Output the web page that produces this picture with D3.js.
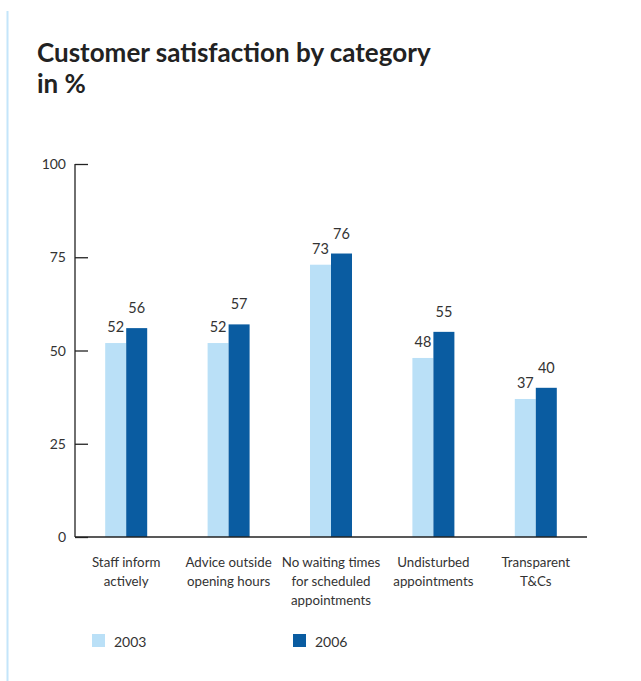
<!DOCTYPE html>
<html>
<head>
<meta charset="utf-8">
<script src="https://cdn.jsdelivr.net/npm/d3@7"></script>
<style>
  html, body { margin: 0; padding: 0; background: #fff; }
  svg { display: block; }
  text { font-family: Lato, "Open Sans", sans-serif; fill: #333; }
</style>
</head>
<body>
<div id="chart"></div>
<script>
// Survey results: share of satisfied customers per category
const categories = [
  ["Staff inform", "actively"],
  ["Advice outside", "opening hours"],
  ["No waiting times", "for scheduled", "appointments"],
  ["Undisturbed", "appointments"],
  ["Transparent", "T&Cs"]
];
const years = ["2003", "2006"];
const values2003 = [52, 52, 73, 48, 37];
const values2006 = [56, 57, 76, 55, 40];
const yTicks = [0, 25, 50, 75, 100];
const colors = ["#bae0f7", "#0a5ca1"];

const W = 641, H = 681;
const svg = d3.select("#chart").append("svg").attr("width", W).attr("height", H);

// light accent rule on the left edge
svg.append("line")
  .attr("x1", 7.5).attr("x2", 7.5).attr("y1", 11).attr("y2", H)
  .attr("stroke", "#c4e5fa").attr("stroke-width", 2);

// title
const title = svg.append("text")
  .style("font-size", "26px").style("font-weight", "700").style("fill", "#222");
title.append("tspan").attr("x", 37).attr("y", 62).text("Customer satisfaction by category");
title.append("tspan").attr("x", 37).attr("y", 93).text("in %");

const plot = { left: 75, right: 587, top: 164, bottom: 537 };

const x = d3.scaleBand()
  .domain(d3.range(categories.length))
  .range([plot.left, plot.right]);

const y = d3.scaleLinear().domain([0, 100]).range([plot.bottom, plot.top]);

const barW = 21;

// y axis: ticks point inwards
const yAxis = d3.axisRight(y).tickValues(yTicks).tickSize(13).tickPadding(0).tickFormat("");
svg.append("g").attr("transform", `translate(${plot.left},0)`).call(yAxis)
  .call(g => g.select(".domain").remove())
  .call(g => g.selectAll(".tick line").attr("stroke", "#222").attr("stroke-width", 1.3));

svg.append("line")
  .attr("x1", plot.left).attr("x2", plot.left)
  .attr("y1", plot.top).attr("y2", plot.bottom)
  .attr("stroke", "#222").attr("stroke-width", 1.3);

svg.append("g").selectAll("text").data(yTicks).join("text")
  .attr("x", 66).attr("y", d => y(d) + 5)
  .attr("text-anchor", "end")
  .style("font-size", "14px")
  .text(d => d);

// bars
const series = [values2003, values2006];
const labelOffset = [11, 15];
series.forEach((vals, s) => {
  const g = svg.append("g");
  g.selectAll("rect").data(vals).join("rect")
    .attr("x", (d, i) => x(i) + x.bandwidth() / 2 - barW + s * barW)
    .attr("width", barW)
    .attr("y", d => y(d))
    .attr("height", d => y(0) - y(d))
    .attr("fill", colors[s]);
  g.selectAll("text").data(vals).join("text")
    .attr("x", (d, i) => x(i) + x.bandwidth() / 2 - barW / 2 + s * barW)
    .attr("y", d => y(d) - labelOffset[s])
    .attr("text-anchor", "middle")
    .style("font-size", "14.5px")
    .text(d => d);
});

// x axis baseline
svg.append("line")
  .attr("x1", plot.left).attr("x2", plot.right)
  .attr("y1", plot.bottom).attr("y2", plot.bottom)
  .attr("stroke", "#222").attr("stroke-width", 1.3);

// category labels
const catG = svg.append("g").selectAll("text").data(categories).join("text")
  .attr("text-anchor", "middle")
  .style("font-size", "13.3px");
catG.each(function(lines, i) {
  d3.select(this).selectAll("tspan").data(lines).join("tspan")
    .attr("x", x(i) + x.bandwidth() / 2)
    .attr("y", (d, j) => 567 + j * 19)
    .text(d => d);
});

// legend
const legendX = [92, 293];
const leg = svg.append("g").selectAll("g").data(years).join("g")
  .attr("transform", (d, i) => `translate(${legendX[i]},634)`);
leg.append("rect").attr("width", 13).attr("height", 13).attr("fill", (d, i) => colors[i]);
leg.append("text").attr("x", 22).attr("y", 13).style("font-size", "14px").text(d => d);
</script>
</body>
</html>
